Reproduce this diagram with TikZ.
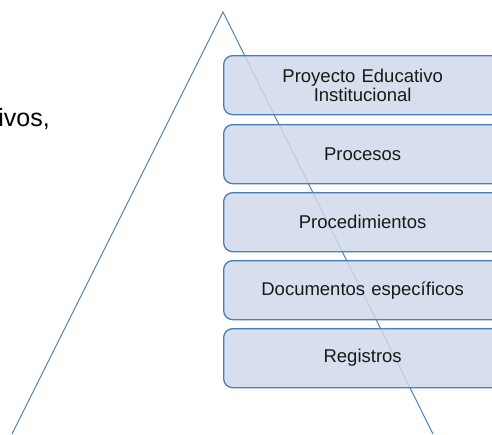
\documentclass[tikz,border=0pt]{standalone}
\usepackage{fontspec}
\setmainfont{Liberation Sans}
\definecolor{boxfill}{HTML}{D0D8EA}
\definecolor{boxline}{HTML}{4A7EBB}
\definecolor{triline}{HTML}{4F81BD}
\begin{document}
\begin{tikzpicture}[x=1pt,y=-1pt,
  level/.style={draw=boxline, line width=1.3pt, fill=boxfill, fill opacity=0.85, text opacity=1,
    rounded corners=9pt, minimum width=278pt, minimum height=59pt, anchor=north west,
    inner sep=0pt, text width=270pt, align=center, font=\fontsize{18.5}{19.5}\selectfont, text=black!90},
  tri/.style={draw=triline, line width=1pt}]
\useasboundingbox (0,0) rectangle (492,434);
\clip (0,0) rectangle (492,434);
\coordinate (apex) at (223,12);
\coordinate (bl) at (12,434);
\coordinate (br) at (433,434);
\draw[tri] (bl) -- (apex) -- (br);
\node[anchor=base east, inner sep=0pt, font=\fontsize{25}{28}\selectfont] (txt) at (50,126) {ivos,};
\node[level] (n1) at (223,55) {Proyecto Educativo\\Institucional};
\node[level] (n2) at (223,124) {Procesos};
\node[level] (n3) at (223,192) {Procedimientos};
\node[level] (n4) at (223,260) {Documentos específicos};
\node[level] (n5) at (223,328) {Registros};
\end{tikzpicture}
\end{document}
